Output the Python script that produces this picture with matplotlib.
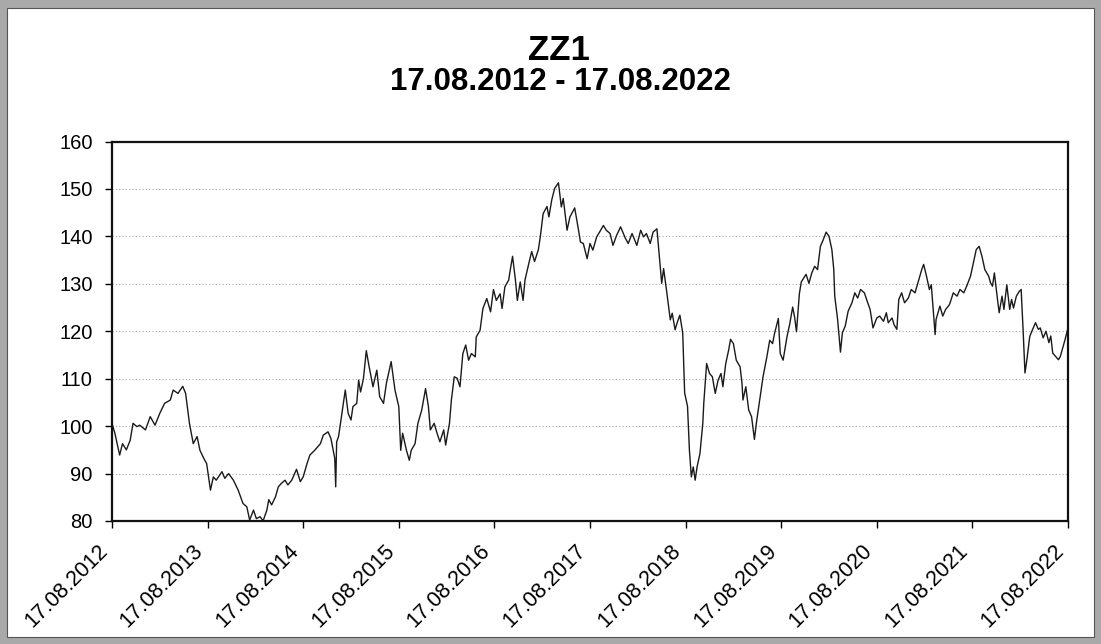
import numpy as np
import matplotlib
matplotlib.use("Agg")
import matplotlib.pyplot as plt
from matplotlib.patches import Rectangle

plt.rcParams['font.family'] = ['Liberation Sans', 'DejaVu Sans']

# years since 17.08.2012 and index values
t = [0.00, 0.03, 0.08, 0.11, 0.15, 0.19, 0.22, 0.26, 0.29, 0.35, 0.40, 0.45, 0.50, 0.55, 0.61,
     0.64, 0.69, 0.74, 0.77, 0.81, 0.85, 0.89, 0.92, 0.96, 0.99, 1.03, 1.06, 1.09, 1.15, 1.18,
     1.22, 1.27, 1.32, 1.37, 1.41, 1.44, 1.48, 1.51, 1.55, 1.58, 1.62, 1.64, 1.67, 1.71, 1.74,
     1.77, 1.81, 1.84, 1.88, 1.93, 1.97, 2.00, 2.04, 2.07, 2.12, 2.18, 2.21, 2.26, 2.29, 2.31,
     2.33, 2.34,
     2.35, 2.37, 2.40, 2.44, 2.47, 2.50, 2.52, 2.56, 2.58, 2.60, 2.63, 2.66, 2.69, 2.73, 2.77,
     2.80, 2.84, 2.87, 2.92, 2.96, 3.00, 3.02, 3.04, 3.08, 3.11, 3.13, 3.17, 3.20, 3.24, 3.28,
     3.31, 3.33, 3.37, 3.40, 3.43, 3.47, 3.49, 3.53, 3.55, 3.58, 3.61, 3.64, 3.67, 3.70, 3.73,
     3.76, 3.80, 3.81, 3.85, 3.88, 3.92, 3.96, 3.99, 4.02, 4.06, 4.08, 4.11, 4.15, 4.16, 4.19,
     4.22, 4.24, 4.27, 4.30, 4.32, 4.36, 4.39, 4.42, 4.46, 4.48, 4.51, 4.55, 4.57, 4.60, 4.63,
     4.67, 4.70, 4.72, 4.76, 4.79, 4.84, 4.88, 4.90,
     4.93, 4.97, 5.00, 5.03, 5.07, 5.10, 5.14, 5.17, 5.21, 5.24, 5.28, 5.32, 5.37, 5.40, 5.44,
     5.49, 5.53, 5.56, 5.59, 5.63, 5.66, 5.70, 5.72, 5.75, 5.77, 5.80, 5.84, 5.86, 5.89, 5.91,
     5.94, 5.97, 5.99, 6.02, 6.04, 6.06, 6.08, 6.10, 6.12, 6.15, 6.18, 6.19, 6.22, 6.25, 6.28,
     6.31, 6.34, 6.37, 6.39, 6.42, 6.45, 6.47, 6.50, 6.53, 6.57, 6.59, 6.60, 6.63, 6.66, 6.69,
     6.72, 6.74, 6.78, 6.81, 6.85, 6.88, 6.91, 6.93, 6.97, 6.99, 7.02, 7.06, 7.09, 7.12, 7.14,
     7.16, 7.19, 7.21, 7.26, 7.29,
     7.32, 7.35, 7.38, 7.41, 7.44, 7.47, 7.50, 7.53, 7.55, 7.56, 7.59, 7.62, 7.64, 7.67, 7.70,
     7.74, 7.77, 7.80, 7.83, 7.87, 7.90, 7.93, 7.96, 8.00, 8.03, 8.07, 8.10, 8.12, 8.16, 8.18,
     8.21, 8.23, 8.26, 8.29, 8.33, 8.36, 8.40, 8.43, 8.47, 8.49, 8.52, 8.55, 8.57, 8.59, 8.61,
     8.62, 8.66, 8.69, 8.72, 8.76, 8.80, 8.84, 8.87, 8.91, 8.94, 8.98, 9.01, 9.04, 9.07, 9.10,
     9.13, 9.17, 9.19, 9.21, 9.23, 9.25, 9.28, 9.31, 9.33, 9.36, 9.39, 9.41, 9.43, 9.46, 9.49,
     9.51, 9.53, 9.55, 9.57, 9.60, 9.63, 9.66, 9.69, 9.71, 9.74, 9.77, 9.80, 9.82, 9.84, 9.87,
     9.90, 9.92, 9.95, 9.97, 10.00]

werte = [100.6, 98.5, 93.9, 96.3, 95.0, 97.0, 100.6, 99.9, 100.2, 99.2, 102.0, 100.2, 102.7, 104.8, 105.5,
         107.6, 106.9, 108.4, 106.9, 100.6, 96.3, 97.8, 94.9, 93.2, 92.1, 86.5, 89.3, 88.6, 90.4, 89.0,
         90.0, 88.6, 86.5, 83.7, 83.0, 80.2, 82.3, 80.5, 80.9, 80.0, 82.3, 84.5, 83.4, 85.1, 87.2,
         87.9, 88.6, 87.6, 88.6, 90.9, 88.3, 89.3, 92.1, 93.9, 94.9, 96.3, 98.1, 98.8, 97.4, 95.3,
         93.2, 87.2,
         96.7, 97.8, 102.0, 107.6, 102.7, 101.3, 104.1, 104.8, 109.7, 107.2, 110.0, 115.9, 112.5, 108.3, 111.8,
         106.2, 104.8, 109.0, 113.6, 107.6, 104.1, 94.9, 98.5, 94.9, 92.8, 94.9, 96.3, 100.6, 103.4, 107.9,
         104.1, 99.2, 100.6, 98.5, 96.7, 99.2, 96.0, 100.6, 105.5, 110.4, 110.1, 108.3, 115.3, 117.1, 113.9,
         115.3, 114.6, 118.8, 120.2, 124.8, 126.9, 124.1, 128.8, 126.5, 127.9, 124.8, 129.4, 130.8, 132.2, 135.8,
         130.8, 126.5, 130.4, 126.5, 130.8, 134.3, 136.8, 134.7, 137.2, 139.9, 144.8, 146.3, 144.1, 147.7, 150.1,
         151.3, 146.2, 148.0, 141.3, 144.1, 146.0, 141.3, 138.8,
         138.5, 135.3, 138.5, 137.1, 139.9, 140.9, 142.3, 141.3, 140.6, 138.1, 140.3, 142.0, 139.6, 138.5, 140.6,
         138.1, 141.3, 139.9, 140.6, 138.5, 140.9, 141.6, 137.1, 130.1, 133.2, 128.7, 122.4, 123.8, 120.3, 121.7,
         123.4, 119.6, 107.0, 104.2, 94.9, 89.3, 91.4, 88.6, 91.4, 94.2, 100.6, 104.8, 113.2, 111.1, 110.4,
         106.9, 109.7, 111.1, 108.3, 113.2, 116.0, 118.3, 117.4, 113.9, 112.5, 109.0, 105.5, 108.3, 103.4, 102.0,
         97.2, 100.6, 106.2, 110.4, 114.6, 118.1, 117.4, 119.5, 122.7, 115.3, 113.9, 118.8, 121.6, 125.1, 123.0,
         119.9, 127.9, 130.4, 132.0, 130.1,
         132.3, 133.7, 133.0, 137.9, 139.3, 140.9, 140.0, 137.2, 133.0, 127.4, 122.5, 115.6, 119.7, 121.1, 124.2,
         126.0, 128.1, 127.0, 128.8, 128.1, 126.3, 124.6, 120.7, 122.8, 123.2, 122.1, 123.9, 121.8, 122.8, 121.4,
         120.4, 126.7, 128.1, 126.0, 127.0, 128.8, 128.1, 130.2, 133.0, 134.1, 131.6, 128.8, 129.8, 124.6, 119.3,
         122.5, 125.3, 123.2, 124.6, 125.6, 128.1, 127.4, 128.8, 128.1, 129.5, 131.6, 134.4, 137.2, 137.9, 135.8,
         133.0, 131.6, 130.2, 129.5, 132.3, 128.8, 123.9, 127.4, 124.6, 129.8, 124.6, 126.7, 124.9, 127.4, 128.4,
         128.8, 120.4, 111.2, 114.0, 118.9, 120.4, 121.8, 120.4, 120.7, 118.6, 120.0, 117.6, 119.0, 115.4, 114.7,
         114.0, 114.7, 116.9, 118.3, 120.7]

x_labels = ["17.08.2012", "17.08.2013", "17.08.2014", "17.08.2015", "17.08.2016", "17.08.2017",
            "17.08.2018", "17.08.2019", "17.08.2020", "17.08.2021", "17.08.2022"]
y_ticks = [80, 90, 100, 110, 120, 130, 140, 150, 160]

fig = plt.figure(figsize=(11.01, 6.44), dpi=100)
fig.patch.set_facecolor('#a9a9a9')
# weisse Innenflaeche (Scan-Rahmen)
rahmen = Rectangle((7 / 1101, 7 / 644), 1087 / 1101, 629 / 644,
                   transform=fig.transFigure, facecolor='white',
                   edgecolor='#555555', linewidth=0.8, zorder=-10)
fig.add_artist(rahmen)

ax = fig.add_axes([112 / 1101, 1 - 521 / 644, 956 / 1101, 379.5 / 644])
ax.set_zorder(5)
ax.plot(t, werte, color='#1a1a1a', linewidth=1.0)

ax.set_xlim(0, 10)
ax.set_ylim(80, 160)
ax.set_yticks(y_ticks)
ax.set_xticks(range(len(x_labels)))
ax.set_xticklabels(x_labels, rotation=45, ha='right', fontsize=15.5)
ax.tick_params(axis='y', labelsize=14.5, length=5, width=1, pad=9)
ax.tick_params(axis='x', length=5, width=1, pad=9)
ax.grid(axis='y', linestyle=(0, (1, 2)), color='#aaaaaa', linewidth=0.8)
for s in ax.spines.values():
    s.set_linewidth(1.6)
    s.set_color('#111111')

fig.text(0.508, 1 - 51 / 644, "ZZ1", ha='center', va='center', fontsize=25, fontweight='bold')
fig.text(0.509, 1 - 82 / 644, "17.08.2012 - 17.08.2022", ha='center', va='center',
         fontsize=22.5, fontweight='bold')

fig.savefig("out.png", dpi=100, facecolor=fig.get_facecolor())
